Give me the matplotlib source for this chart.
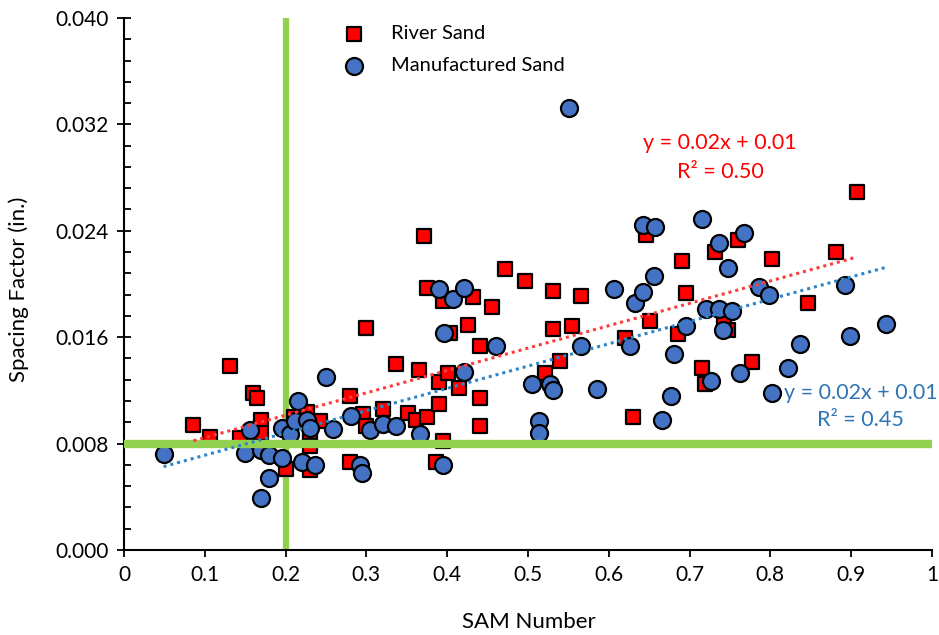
import matplotlib

matplotlib.use("Agg")
import matplotlib.pyplot as plt  # noqa: E402
import numpy as np  # noqa: E402
from matplotlib.ticker import FuncFormatter, MultipleLocator  # noqa: E402

plt.rcParams["font.family"] = ["Lato", "DejaVu Sans"]

# River Sand (red squares)
river_x = [0.086, 0.106, 0.131, 0.144, 0.160, 0.165, 0.170, 0.170, 0.201, 0.210,
           0.226, 0.230, 0.230, 0.230, 0.243, 0.280, 0.280, 0.296, 0.300, 0.300,
           0.320, 0.337, 0.351, 0.362, 0.365, 0.371, 0.375, 0.375, 0.386, 0.390,
           0.390, 0.395, 0.395, 0.401, 0.404, 0.415, 0.426, 0.432, 0.441, 0.441,
           0.441, 0.456, 0.471, 0.496, 0.521, 0.531, 0.531, 0.540, 0.555, 0.566,
           0.620, 0.630, 0.646, 0.651, 0.686, 0.691, 0.696, 0.716, 0.719, 0.731,
           0.743, 0.748, 0.760, 0.777, 0.802, 0.847, 0.881, 0.907]
river_y = [0.0094, 0.0085, 0.0138, 0.0084, 0.0118, 0.0114, 0.0098, 0.0088, 0.0061, 0.0100,
           0.0104, 0.0084, 0.0078, 0.0060, 0.0097, 0.0116, 0.0066, 0.0102, 0.0167, 0.0093,
           0.0106, 0.0140, 0.0103, 0.0098, 0.0135, 0.0236, 0.0197, 0.0100, 0.0066, 0.0126,
           0.0110, 0.0187, 0.0082, 0.0133, 0.0163, 0.0122, 0.0169, 0.0190, 0.0153, 0.0114,
           0.0093, 0.0183, 0.0211, 0.0202, 0.0133, 0.0195, 0.0166, 0.0142, 0.0168, 0.0191,
           0.0159, 0.0100, 0.0237, 0.0172, 0.0162, 0.0217, 0.0193, 0.0137, 0.0125, 0.0224,
           0.0171, 0.0165, 0.0233, 0.0141, 0.0219, 0.0186, 0.0224, 0.0269]

# Manufactured Sand (blue circles)
manuf_x = [0.049, 0.150, 0.156, 0.170, 0.170, 0.179, 0.180, 0.195, 0.195, 0.205,
           0.212, 0.216, 0.220, 0.226, 0.230, 0.236, 0.250, 0.259, 0.281, 0.292,
           0.295, 0.305, 0.321, 0.337, 0.366, 0.390, 0.395, 0.396, 0.407, 0.421,
           0.421, 0.460, 0.505, 0.514, 0.514, 0.527, 0.531, 0.551, 0.566, 0.586,
           0.606, 0.626, 0.632, 0.643, 0.643, 0.656, 0.657, 0.666, 0.677, 0.681,
           0.696, 0.716, 0.720, 0.726, 0.737, 0.737, 0.741, 0.747, 0.752, 0.762,
           0.767, 0.786, 0.798, 0.802, 0.822, 0.837, 0.892, 0.898, 0.943]
manuf_y = [0.0072, 0.0073, 0.0090, 0.0075, 0.0039, 0.0071, 0.0054, 0.0092, 0.0069, 0.0087,
           0.0097, 0.0112, 0.0066, 0.0098, 0.0092, 0.0064, 0.0130, 0.0091, 0.0101, 0.0064,
           0.0058, 0.0090, 0.0095, 0.0093, 0.0087, 0.0196, 0.0064, 0.0163, 0.0189, 0.0197,
           0.0134, 0.0153, 0.0125, 0.0097, 0.0088, 0.0125, 0.0120, 0.0332, 0.0153, 0.0121,
           0.0196, 0.0153, 0.0186, 0.0244, 0.0194, 0.0206, 0.0243, 0.0098, 0.0116, 0.0147,
           0.0168, 0.0249, 0.0181, 0.0127, 0.0181, 0.0231, 0.0165, 0.0212, 0.0180, 0.0133,
           0.0238, 0.0198, 0.0192, 0.0118, 0.0137, 0.0155, 0.0199, 0.0161, 0.0170]

SAM_LIMIT = 0.2
SPACING_LIMIT = 0.008

RED = "#ff0000"
BLUE = "#4472c4"
BLUE_TXT = "#2e75b6"
GREEN = "#92d050"

fig = plt.figure(figsize=(9.39, 6.35), dpi=100)
ax = fig.add_axes([0.132, 0.134, 0.8605, 0.8377])

ax.axvline(SAM_LIMIT, color=GREEN, lw=4.5, zorder=1)
ax.scatter(river_x, river_y, marker="s", s=110, color=RED, edgecolor="black",
           linewidth=1.6, zorder=3, label="River Sand")
ax.scatter(manuf_x, manuf_y, marker="o", s=150, color=BLUE, edgecolor="black",
           linewidth=1.6, zorder=4, label="Manufactured Sand")
ax.axhline(SPACING_LIMIT, color=GREEN, lw=6, zorder=5)

# linear trendlines, like Excel's
for xs, ys, col in [(river_x, river_y, "#ff3b3b"), (manuf_x, manuf_y, "#2e86c8")]:
    k, b = np.polyfit(xs, ys, 1)
    xx = np.array([min(xs), max(xs)])
    ax.plot(xx, k * xx + b, ls=(0, (1, 1.3)), lw=2.2, color=col, zorder=6)

ax.text(0.7376, 0.0306, "y = 0.02x + 0.01", color=RED, fontsize=15.5,
        ha="center", va="center", zorder=7)
ax.text(0.7376, 0.0284, "R² = 0.50", color=RED, fontsize=15.5,
        ha="center", va="center", zorder=7)
ax.text(0.912, 0.0118, "y = 0.02x + 0.01", color=BLUE_TXT, fontsize=15.5,
        ha="center", va="center", zorder=7)
ax.text(0.912, 0.0098, "R² = 0.45", color=BLUE_TXT, fontsize=15.5,
        ha="center", va="center", zorder=7)

ax.set_xlim(0, 1)
ax.set_ylim(0, 0.040)
ax.xaxis.set_major_locator(MultipleLocator(0.1))
ax.yaxis.set_major_locator(MultipleLocator(0.008))
ax.yaxis.set_minor_locator(MultipleLocator(0.0016))
ax.xaxis.set_major_formatter(FuncFormatter(lambda v, p: f"{v:g}"))
ax.yaxis.set_major_formatter(FuncFormatter(lambda v, p: f"{v:.3f}"))
ax.tick_params(axis="x", which="major", direction="out", length=5, width=1.3,
               labelsize=15, pad=6)
ax.tick_params(axis="y", which="major", direction="inout", length=10, width=1.3,
               labelsize=15, pad=6)
ax.tick_params(axis="y", which="minor", direction="in", length=5, width=1.3)
for side in ("top", "right"):
    ax.spines[side].set_visible(False)
for side in ("left", "bottom"):
    ax.spines[side].set_linewidth(1.5)

ax.set_xlabel("SAM Number", fontsize=16)
ax.set_ylabel("Spacing Factor (in.)", fontsize=16)
ax.xaxis.set_label_coords(0.501, -0.117)
ax.yaxis.set_label_coords(-0.118, 0.49)

ax.legend(loc="upper left", bbox_to_anchor=(0.25, 1.021), frameon=False,
          fontsize=14.5, handlelength=1.0, handletextpad=1.35, labelspacing=0.75,
          borderpad=0.4)

fig.savefig("out.png", dpi=100)
